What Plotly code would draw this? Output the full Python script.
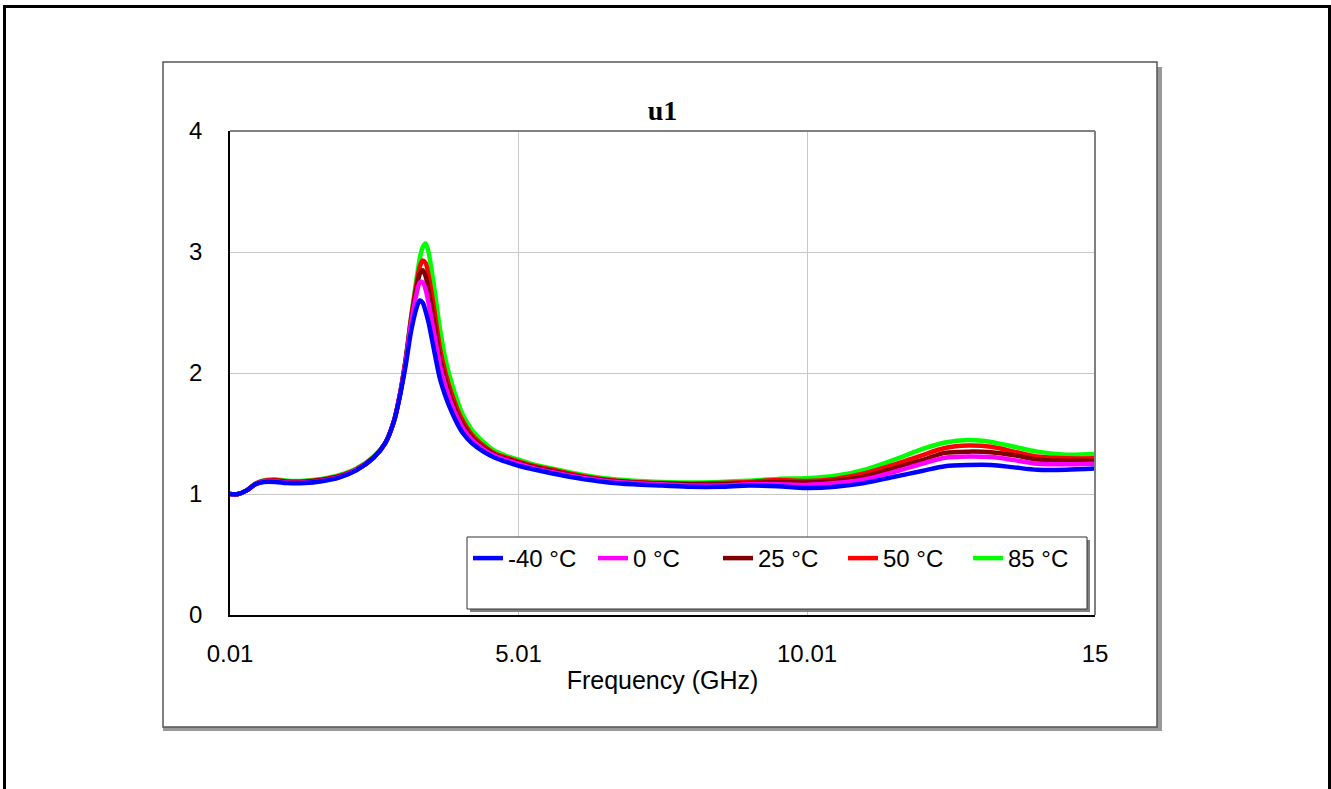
import plotly.graph_objects as go

# Frequency sweep (GHz)
freq = [0.01, 0.15, 0.3, 0.45, 0.6, 0.8, 1.0, 1.3, 1.6, 1.9, 2.2, 2.5, 2.7,
        2.85, 2.95, 3.05, 3.15, 3.25, 3.30, 3.35, 3.40, 3.45, 3.55, 3.65, 3.75,
        3.85, 3.95, 4.05, 4.2, 4.4, 4.6, 4.8, 5.0, 5.3, 5.6, 6.0, 6.5, 7.0, 7.5,
        8.0, 8.5, 9.0, 9.5, 10.0, 10.5, 11.0, 11.5, 12.0, 12.4, 12.8, 13.2, 13.6,
        14.0, 14.5, 15.0]

u1_m40 = [1.00, 1.00, 1.03, 1.08, 1.10, 1.10, 1.09, 1.09, 1.105, 1.135, 1.195, 1.30, 1.42,
          1.60, 1.80, 2.05, 2.35, 2.55, 2.60, 2.58, 2.51, 2.42, 2.18, 1.95, 1.80,
          1.68, 1.58, 1.50, 1.42, 1.35, 1.30, 1.265, 1.235, 1.20, 1.17, 1.135, 1.10, 1.08, 1.07,
          1.06, 1.06, 1.07, 1.065, 1.05, 1.06, 1.09, 1.14, 1.19, 1.23, 1.24, 1.24, 1.22,
          1.20, 1.20, 1.21]

u1_0 = [1.00, 1.00, 1.03, 1.08, 1.105, 1.105, 1.095, 1.095, 1.11, 1.14, 1.20, 1.30, 1.42,
        1.60, 1.81, 2.08, 2.42, 2.67, 2.75, 2.75, 2.69, 2.58, 2.32, 2.06, 1.88,
        1.74, 1.63, 1.54, 1.45, 1.37, 1.315, 1.28, 1.25, 1.21, 1.18, 1.145, 1.11, 1.09, 1.08,
        1.07, 1.07, 1.08, 1.08, 1.075, 1.09, 1.12, 1.18, 1.25, 1.30, 1.31, 1.305, 1.28,
        1.25, 1.245, 1.25]

u1_25 = [1.00, 1.00, 1.03, 1.08, 1.105, 1.11, 1.10, 1.10, 1.115, 1.145, 1.20, 1.30, 1.42,
         1.60, 1.81, 2.09, 2.44, 2.72, 2.82, 2.85, 2.80, 2.69, 2.41, 2.12, 1.93,
         1.78, 1.66, 1.57, 1.47, 1.385, 1.325, 1.29, 1.26, 1.22, 1.19, 1.15, 1.115, 1.095, 1.085,
         1.08, 1.08, 1.09, 1.10, 1.095, 1.11, 1.145, 1.21, 1.28, 1.34, 1.35, 1.345, 1.32,
         1.285, 1.275, 1.275]

u1_50 = [1.00, 1.00, 1.03, 1.085, 1.11, 1.115, 1.105, 1.105, 1.12, 1.15, 1.205, 1.305, 1.42,
         1.60, 1.81, 2.10, 2.46, 2.76, 2.88, 2.93, 2.91, 2.81, 2.52, 2.20, 1.99,
         1.83, 1.70, 1.60, 1.49, 1.40, 1.335, 1.30, 1.27, 1.23, 1.20, 1.16, 1.12, 1.10, 1.09,
         1.085, 1.09, 1.10, 1.115, 1.107, 1.125, 1.17, 1.24, 1.32, 1.38, 1.40, 1.39, 1.35,
         1.31, 1.295, 1.295]

u1_85 = [1.00, 1.00, 1.03, 1.085, 1.115, 1.12, 1.11, 1.11, 1.125, 1.155, 1.21, 1.31, 1.42,
         1.60, 1.81, 2.10, 2.47, 2.80, 2.95, 3.04, 3.07, 3.00, 2.70, 2.36, 2.10,
         1.92, 1.77, 1.65, 1.53, 1.43, 1.355, 1.315, 1.285, 1.24, 1.21, 1.17, 1.13, 1.11, 1.10,
         1.095, 1.10, 1.11, 1.125, 1.13, 1.15, 1.20, 1.28, 1.37, 1.425, 1.446, 1.43, 1.39,
         1.35, 1.325, 1.33]

series_names = ["-40 °C", "0 °C", "25 °C", "50 °C", "85 °C"]
series_values = [u1_m40, u1_0, u1_25, u1_50, u1_85]
series_colors = ["#0000FF", "#FF00FF", "#800000", "#FF0000", "#00FF00"]

x_tickvals = [0.01, 5.01, 10.01, 15]
x_ticktext = ["0.01", "5.01", "10.01", "15"]
y_tickvals = [0, 1, 2, 3, 4]

# page geometry (pixels) of the plotting area
W, H = 1331, 789
PL, PR, PT, PB = 230, 1095, 131, 615


def px(x):
    return (x - PL) / (PR - PL)


def py(y):
    return (PB - y) / (PB - PT)


fig = go.Figure()

# hottest curve first so the coldest one ends up on top
for name, vals, col, rank in reversed(list(zip(series_names, series_values, series_colors,
                                                range(1, 6)))):
    fig.add_trace(go.Scatter(
        x=freq, y=vals, mode="lines", name=name,
        line=dict(color=col, width=4.5, shape="spline", smoothing=0.8),
        legendrank=rank,
    ))

shapes = []
# outer page frame
shapes.append(dict(type="rect", xref="paper", yref="paper",
                   x0=px(4.5), x1=px(1329.5), y0=py(6.5), y1=py(820),
                   line=dict(color="black", width=3), layer="below"))
# chart frame with drop shadow
shapes.append(dict(type="rect", xref="paper", yref="paper",
                   x0=px(163), x1=px(1162), y0=py(67), y1=py(731),
                   fillcolor="#999999", line=dict(width=0), layer="below"))
shapes.append(dict(type="rect", xref="paper", yref="paper",
                   x0=px(163), x1=px(1157), y0=py(62), y1=py(727),
                   fillcolor="white", line=dict(color="#555555", width=1.5), layer="below"))
# top and right plot border
shapes.append(dict(type="line", xref="paper", yref="paper",
                   x0=0, x1=1, y0=1, y1=1, line=dict(color="#808080", width=2)))
shapes.append(dict(type="line", xref="paper", yref="paper",
                   x0=1, x1=1, y0=0, y1=1, line=dict(color="#808080", width=2)))
# legend box with shadow
shapes.append(dict(type="rect", xref="paper", yref="paper",
                   x0=px(470), x1=px(1090), y0=py(540), y1=py(612),
                   fillcolor="#808080", line=dict(width=0)))
shapes.append(dict(type="rect", xref="paper", yref="paper",
                   x0=px(467), x1=px(1087), y0=py(537), y1=py(609),
                   fillcolor="white", line=dict(color="#333333", width=1)))

FAMILY = "Liberation Sans, Arial, sans-serif"
TICK = dict(family=FAMILY, size=24, color="black")
LEG = dict(family=FAMILY, size=24, color="black")
AXT = dict(family=FAMILY, size=25, color="black")

fig.update_layout(
    width=W, height=H,
    margin=dict(l=PL, r=W - PR, t=PT, b=H - PB, pad=0),
    paper_bgcolor="white",
    plot_bgcolor="rgba(0,0,0,0)",
    shapes=shapes,
    title=dict(text="<b>u1</b>", x=0.5, xref="paper", y=1 - 110 / H, yanchor="middle",
               font=dict(family="Liberation Serif, Times New Roman, serif", size=28,
                         color="black")),
    font=TICK,
    showlegend=True,
    legend=dict(orientation="h", x=px(468), y=py(536), xanchor="left", yanchor="top",
                bgcolor="rgba(0,0,0,0)", borderwidth=0, entrywidth=80,
                entrywidthmode="pixels", font=LEG, itemwidth=30,
                traceorder="normal"),
    xaxis=dict(range=[0.01, 15], tickvals=x_tickvals, ticktext=x_ticktext,
               showgrid=True, gridcolor="#C8C8C8", gridwidth=1, zeroline=False,
               showline=True, linecolor="black", linewidth=1.5, ticks="",
               tickfont=TICK, ticklabelstandoff=16,
               title=dict(text="Frequency (GHz)", standoff=6, font=AXT)),
    yaxis=dict(range=[0, 4], tickvals=y_tickvals,
               showgrid=True, gridcolor="#C8C8C8", gridwidth=1, zeroline=False,
               showline=True, linecolor="black", linewidth=1.5, ticks="",
               tickfont=TICK, ticklabelstandoff=21),
)

fig.write_html("out.html")
